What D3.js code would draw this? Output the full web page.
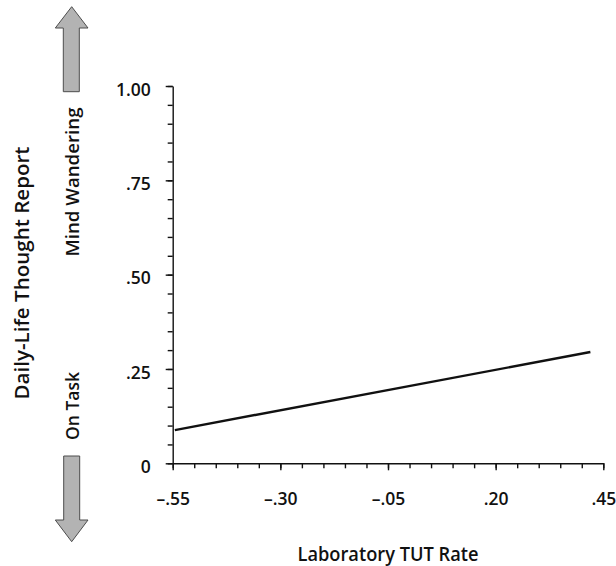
<!DOCTYPE html>
<html>
<head>
<meta charset="utf-8">
<script src="https://cdn.jsdelivr.net/npm/d3@7"></script>
<style>
  body { margin: 0; background: #fff; }
  svg text { font-family: "Open Sans", "Noto Sans", sans-serif; fill: #111; }
</style>
</head>
<body>
<div id="chart"></div>
<script>
// данные графика
const xMajor = [-0.55, -0.30, -0.05, 0.20, 0.45];
const xMajorLabels = ['–.55', '–.30', '–.05', '.20', '.45'];
const yMajor = [0, 0.25, 0.50, 0.75, 1.00];
const yMajorLabels = ['0', '.25', '.50', '.75', '1.00'];
const minorStep = 0.05;

// линия регрессии: лабораторный TUT -> отчёт в повседневной жизни
const lineX = [-0.545, 0.42];
const lineY = [0.088, 0.295];

const width = 616, height = 566;

const svg = d3.select('#chart').append('svg')
    .attr('width', width)
    .attr('height', height);

const x = d3.scaleLinear().domain([-0.55, 0.45]).range([172.7, 603.3]);
const y = d3.scaleLinear().domain([0, 1]).range([463.3, 86]);

const xMinor = d3.range(-0.55, 0.45 + 1e-9, minorStep).map(v => +v.toFixed(2));
const yMinor = d3.range(0, 1 + 1e-9, minorStep).map(v => +v.toFixed(2));

// мелкие деления
svg.append('g')
    .attr('transform', `translate(0,${y(0)})`)
    .call(d3.axisBottom(x).tickValues(xMinor).tickSize(5).tickSizeOuter(0).tickFormat(''))
    .call(g => g.selectAll('line,path').attr('stroke', '#111').attr('stroke-width', 1.4));

svg.append('g')
    .attr('transform', `translate(${x(-0.55)},0)`)
    .call(d3.axisLeft(y).tickValues(yMinor).tickSize(5).tickSizeOuter(0).tickFormat(''))
    .call(g => g.selectAll('line,path').attr('stroke', '#111').attr('stroke-width', 1.4));

// основные деления с подписями
svg.append('g')
    .attr('transform', `translate(0,${y(0)})`)
    .call(d3.axisBottom(x).tickValues(xMajor).tickSize(7).tickSizeOuter(0).tickPadding(22)
        .tickFormat((d, i) => xMajorLabels[i]))
    .call(g => g.select('.domain').remove())
    .call(g => g.selectAll('line').attr('stroke', '#111').attr('stroke-width', 1.4))
    .call(g => g.selectAll('text').attr('font-size', 17.5).attr('fill', '#111')
        .attr('font-weight', 600).attr('font-family', '"Open Sans", sans-serif'));

svg.append('g')
    .attr('transform', `translate(${x(-0.55)},0)`)
    .call(d3.axisLeft(y).tickValues(yMajor).tickSize(7).tickSizeOuter(0).tickPadding(15)
        .tickFormat((d, i) => yMajorLabels[i]))
    .call(g => g.select('.domain').remove())
    .call(g => g.selectAll('line').attr('stroke', '#111').attr('stroke-width', 1.4))
    .call(g => g.selectAll('text').attr('font-size', 17.5).attr('fill', '#111').attr('dy', '0.52em')
        .attr('font-weight', 600).attr('font-family', '"Open Sans", sans-serif'));

// линия
const pts = lineX.map((v, i) => [v, lineY[i]]);
svg.append('path')
    .datum(pts)
    .attr('fill', 'none')
    .attr('stroke', '#111')
    .attr('stroke-width', 2.4)
    .attr('d', d3.line().x(d => x(d[0])).y(d => y(d[1])));

// подписи осей
svg.append('text')
    .attr('x', (x.range()[0] + x.range()[1]) / 2)
    .attr('y', 561)
    .attr('text-anchor', 'middle')
    .attr('font-size', 19)
    .attr('font-weight', 600)
    .attr('textLength', 181)
    .attr('lengthAdjust', 'spacingAndGlyphs')
    .text('Laboratory TUT Rate');

svg.append('text')
    .attr('transform', 'translate(29,273) rotate(-90)')
    .attr('text-anchor', 'middle')
    .attr('font-size', 20)
    .attr('font-weight', 600)
    .attr('textLength', 253)
    .attr('lengthAdjust', 'spacingAndGlyphs')
    .text('Daily-Life Thought Report');

svg.append('text')
    .attr('transform', 'translate(79,182) rotate(-90)')
    .attr('text-anchor', 'middle')
    .attr('font-size', 17.5)
    .attr('font-weight', 600)
    .attr('textLength', 149)
    .attr('lengthAdjust', 'spacingAndGlyphs')
    .text('Mind Wandering');

svg.append('text')
    .attr('transform', 'translate(79,406) rotate(-90)')
    .attr('text-anchor', 'middle')
    .attr('font-size', 17.5)
    .attr('font-weight', 600)
    .attr('textLength', 68)
    .attr('lengthAdjust', 'spacingAndGlyphs')
    .text('On Task');

// стрелки
const upArrow = [[71.7, 6.7], [88, 28], [79.3, 28], [79.3, 91.7], [63.3, 91.7], [63.3, 28], [55.3, 28]];
const downArrow = [[71.7, 541.7], [88, 520], [79.7, 520], [79.7, 456], [63.7, 456], [63.7, 520], [55.3, 520]];

svg.selectAll('polygon.arrow')
    .data([upArrow, downArrow])
    .enter().append('polygon')
    .attr('class', 'arrow')
    .attr('points', d => d.map(p => p.join(',')).join(' '))
    .attr('fill', '#b3b3b3')
    .attr('stroke', '#4d4d4d')
    .attr('stroke-width', 1);
</script>
</body>
</html>
